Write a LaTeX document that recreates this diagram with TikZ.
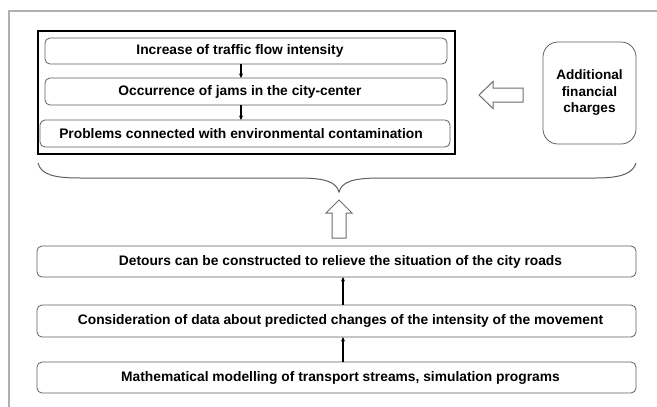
\documentclass[tikz,border=0pt]{standalone}
\usepackage{fontspec}
\setmainfont{Liberation Sans}
\usetikzlibrary{arrows.meta,calc}
\definecolor{framegray}{RGB}{175,175,175}
\definecolor{boxgray}{RGB}{95,95,95}
\definecolor{arrgray}{RGB}{110,110,110}
\begin{document}
\begin{tikzpicture}[x=1pt,y=-1pt,
  every node/.style={inner sep=0pt, outer sep=0pt},
  txt/.style={font=\bfseries\fontsize{13.8}{16}\selectfont, text=black},
  stage/.style={draw=boxgray, line width=0.8pt, rounded corners=5pt, fill=white},
  link/.style={-{Stealth[length=4.5pt,width=4pt]}, line width=1.1pt, black},
  hollow/.style={draw=arrgray, line width=1pt, fill=white, line join=miter}
]
\useasboundingbox (0,0) rectangle (657,407);
\fill[white] (0,0) rectangle (657,407);
% page frame (left and top edges)
\draw[framegray, line width=1.5pt] (9,407) -- (9,11) -- (657,11);

% group of consequences
\node[draw=black, line width=2pt, minimum width=417pt, minimum height=123pt] (grp) at (246.5,92.5) {};
\node[stage, minimum width=402pt, minimum height=26pt,
      label={[txt, xshift=-6pt]center:Increase of traffic flow intensity}] (b1) at (246,51) {};
\node[stage, minimum width=402pt, minimum height=27pt,
      label={[txt, xshift=-6pt]center:Occurrence of jams in the city-center}] (b2) at (246,91.5) {};
\node[stage, minimum width=410pt, minimum height=27pt,
      label={[txt, xshift=-4pt]center:Problems connected with environmental contamination}] (b3) at (245,133.5) {};
\coordinate (ax) at (241,0);
\draw[link] (b1.south -| ax) -- (b2.north -| ax);
\draw[link] (b2.south -| ax) -- (b3.north -| ax);

% extra costs
\node[stage, rounded corners=15pt, minimum width=93pt, minimum height=102pt,
      txt, align=center, font=\bfseries\fontsize{13.6}{16.5}\selectfont] (fin) at (589.5,93)
      {Additional\\financial\\charges};

% hollow arrow pointing to the group
\draw[hollow] (479,95) -- (493,81.5) -- (493,88) -- (523,88) -- (523,102) -- (493,102) -- (493,108.5) -- cycle;

% brace under the upper part
\draw[boxgray, line width=1pt]
  (38,163) .. controls (41,175) and (55,178) .. (80,178) -- (298,178)
  .. controls (326,178) and (336,182) .. (339,192)
  .. controls (342,182) and (352,178) .. (380,178) -- (596,178)
  .. controls (622,178) and (633,173) .. (636,163);

% hollow arrow pointing up to the brace
\draw[hollow] (339,200) -- (352,213) -- (346,213) -- (346,238) -- (332,238) -- (332,213) -- (326,213) -- cycle;

% measures
\node[stage, minimum width=599pt, minimum height=31pt,
      label={[txt, xshift=4pt]center:Detours can be constructed to relieve the situation of the city roads}] (d) at (336.5,261.5) {};
\node[stage, minimum width=599pt, minimum height=32pt,
      label={[txt, xshift=4pt]center:Consideration of data about predicted changes of the intensity of the movement}] (c) at (336.5,321) {};
\node[stage, minimum width=599pt, minimum height=31pt,
      label={[txt, xshift=4pt]center:Mathematical modelling of transport streams, simulation programs}] (m) at (336.5,377.5) {};
\coordinate (bx) at (343,0);
\draw[link] (c.north -| bx) -- (d.south -| bx);
\draw[link] (m.north -| bx) -- (c.south -| bx);
\end{tikzpicture}
\end{document}
